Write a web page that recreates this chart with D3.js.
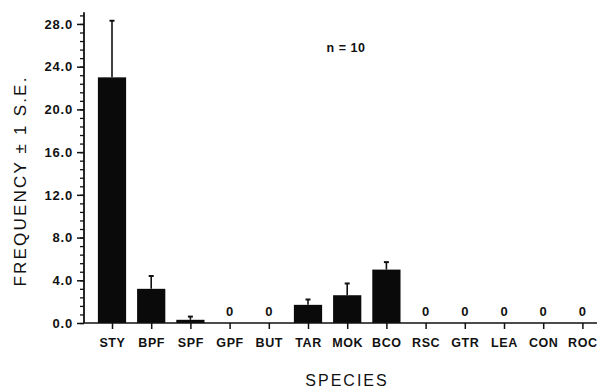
<!DOCTYPE html>
<html><head><meta charset="utf-8">
<script src="https://cdn.jsdelivr.net/npm/d3@7"></script>
<style>
body{margin:0;background:#fff;}
text{font-family:"Liberation Sans",Arial,sans-serif;fill:#111;}
</style></head><body>
<svg id="c" width="598" height="392"></svg>
<script>
const categories = ["STY","BPF","SPF","GPF","BUT","TAR","MOK","BCO","RSC","GTR","LEA","CON","ROC"];
const means = [23.0, 3.2, 0.3, 0, 0, 1.7, 2.6, 5.0, 0, 0, 0, 0, 0];
const errTops = [28.3, 4.4, 0.6, 0, 0, 2.2, 3.7, 5.7, 0, 0, 0, 0, 0];
const yTickLabels = ["0.0","4.0","8.0","12.0","16.0","20.0","24.0","28.0"];
const yTickValues = [0,4,8,12,16,20,24,28];

const svg = d3.select("#c");
const x = d3.scalePoint().domain(categories).range([112, 582.4]);
const y = d3.scaleLinear().domain([0, 29.1]).range([323, 12.2]);
const bw = x.step()*0.72;

// bars
svg.selectAll("rect.bar").data(categories).join("rect")
  .attr("x", d => x(d)-bw/2)
  .attr("y", (d,i) => y(means[i]))
  .attr("width", bw)
  .attr("height", (d,i) => y(0)-y(means[i]))
  .attr("fill", "#0a0a0a");

// error bars
const eb = categories.map((c,i)=>({c, m:means[i], e:errTops[i]})).filter(d=>d.e>d.m);
svg.selectAll("line.err").data(eb).join("line")
  .attr("x1", d=>x(d.c)).attr("x2", d=>x(d.c))
  .attr("y1", d=>y(d.m)).attr("y2", d=>y(d.e))
  .attr("stroke","#111").attr("stroke-width",1.6);
svg.selectAll("line.cap").data(eb).join("line")
  .attr("x1", d=>x(d.c)-2.5).attr("x2", d=>x(d.c)+2.5)
  .attr("y1", d=>y(d.e)).attr("y2", d=>y(d.e))
  .attr("stroke","#111").attr("stroke-width",2);

// zero labels
svg.selectAll("text.zero").data(categories.filter((c,i)=>means[i]===0)).join("text")
  .attr("x", d=>x(d)).attr("y", 316)
  .attr("text-anchor","middle").attr("font-size","13px").attr("font-weight","bold")
  .text("0");

// y axis
const minor = d3.range(0, 29.0, 0.8);
const yAxisMinor = d3.axisLeft(y).tickValues(minor).tickSize(4).tickFormat("");
svg.append("g").attr("transform","translate(84,0)").call(yAxisMinor)
  .call(g=>g.select(".domain").remove())
  .call(g=>g.selectAll("line").attr("stroke","#111").attr("stroke-width",1.3));
const yAxis = d3.axisLeft(y).tickValues(yTickValues).tickSize(7).tickPadding(4)
  .tickFormat((d,i)=>yTickLabels[i]);
svg.append("g").attr("transform","translate(84,0)").call(yAxis)
  .call(g=>g.select(".domain").attr("stroke","#111").attr("stroke-width",1.8).attr("d","M0,"+y(29.1)+"V"+y(0)))
  .call(g=>g.selectAll("line").attr("stroke","#111").attr("stroke-width",1.5))
  .call(g=>g.selectAll("text").attr("font-size","13px").attr("font-weight","bold")
    .attr("letter-spacing","0.8px").attr("fill","#111"));

// x axis
const xAxis = d3.axisBottom(x).tickSize(6).tickPadding(9);
svg.append("g").attr("transform","translate(0,"+y(0)+")").call(xAxis)
  .call(g=>g.select(".domain").attr("stroke","#111").attr("stroke-width",1.6).attr("d","M84,0H597"))
  .call(g=>g.selectAll("line").attr("stroke","#111").attr("stroke-width",1.5))
  .call(g=>g.selectAll("text").attr("font-size","12.5px").attr("font-weight","bold")
    .attr("letter-spacing","0.6px").attr("fill","#111"));

// titles
svg.append("text").attr("x",347).attr("y",386).attr("text-anchor","middle")
  .attr("font-size","16px").attr("letter-spacing","2px").text("SPECIES");
svg.append("text").attr("transform","translate(26,181) rotate(-90)").attr("text-anchor","middle")
  .attr("font-size","17px").attr("letter-spacing","2.2px").text("FREQUENCY \u00b1 1 S.E.");
svg.append("text").attr("x",346).attr("y",52).attr("text-anchor","middle")
  .attr("font-size","12.5px").attr("font-weight","bold").attr("letter-spacing","0.5px").text("n = 10");
</script>
</body></html>
